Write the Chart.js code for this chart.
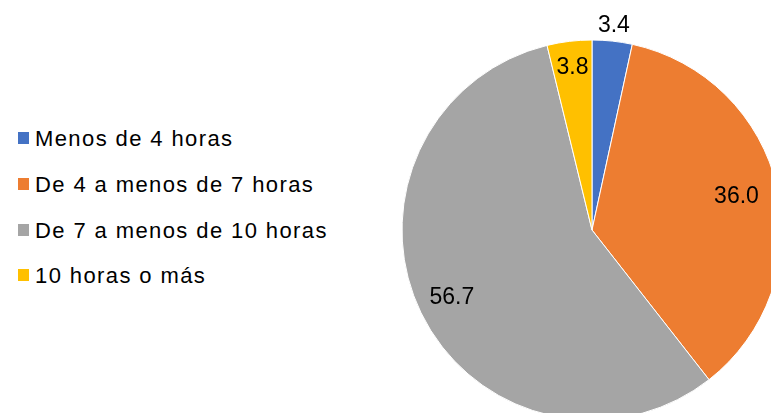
<!DOCTYPE html>
<html>
<head>
<meta charset="utf-8">
<script src="https://cdn.jsdelivr.net/npm/chart.js@4.4.1/dist/chart.umd.min.js"></script>
<style>
  html, body { margin: 0; padding: 0; background: #fff; overflow: hidden; width: 771px; height: 413px; }
  #wrap { position: relative; width: 771px; height: 413px; overflow: hidden; }
  #pie { position: absolute; left: 392px; top: 0px; }
  #legend { position: absolute; left: 18px; top: 126px; font-family: "Liberation Sans", Arial, sans-serif; font-size: 22px; color: #000; letter-spacing: 1.4px; }
  .item { height: 45.8px; display: flex; align-items: flex-start; }
  .box { width: 11px; height: 12px; margin: 6px 6px 0 0; }
</style>
</head>
<body>
<div id="wrap">
  <div id="legend"></div>
  <canvas id="pie" width="400" height="460"></canvas>
</div>
<script>
const categories = ['Menos de 4 horas', 'De 4 a menos de 7 horas', 'De 7 a menos de 10 horas', '10 horas o más'];
const values = [3.4, 36.0, 56.7, 3.8];
const labels = ['3.4', '36.0', '56.7', '3.8'];
const colors = ['#4472C4', '#ED7D31', '#A5A5A5', '#FFC000'];

// how far out each label sits, as a share of the radius
const labelRadius = [1.08, 0.78, 0.82, 0.86];

const legend = document.getElementById('legend');
categories.forEach((c, i) => {
  const row = document.createElement('div');
  row.className = 'item';
  row.innerHTML = '<span class="box" style="background:' + colors[i] + '"></span><span>' + c + '</span>';
  legend.appendChild(row);
});

const sliceLabels = {
  id: 'sliceLabels',
  afterDatasetsDraw(chart) {
    const ctx = chart.ctx;
    const arcs = chart.getDatasetMeta(0).data;
    ctx.save();
    ctx.font = '23px "Liberation Sans", Arial, sans-serif';
    ctx.fillStyle = '#000';
    ctx.textAlign = 'center';
    ctx.textBaseline = 'middle';
    arcs.forEach((arc, i) => {
      const p = arc.getProps(['x', 'y', 'startAngle', 'endAngle', 'outerRadius'], true);
      const mid = (p.startAngle + p.endAngle) / 2;
      const r = p.outerRadius * labelRadius[i];
      ctx.fillText(labels[i], p.x + Math.cos(mid) * r, p.y + Math.sin(mid) * r);
    });
    ctx.restore();
  }
};

new Chart(document.getElementById('pie'), {
  type: 'pie',
  data: {
    labels: categories,
    datasets: [{
      data: values,
      backgroundColor: colors,
      borderColor: '#fff',
      borderWidth: 1,
      radius: 190
    }]
  },
  options: {
    responsive: false,
    animation: false,
    plugins: {
      legend: { display: false },
      tooltip: { enabled: false }
    }
  },
  plugins: [sliceLabels]
});
</script>
</body>
</html>
